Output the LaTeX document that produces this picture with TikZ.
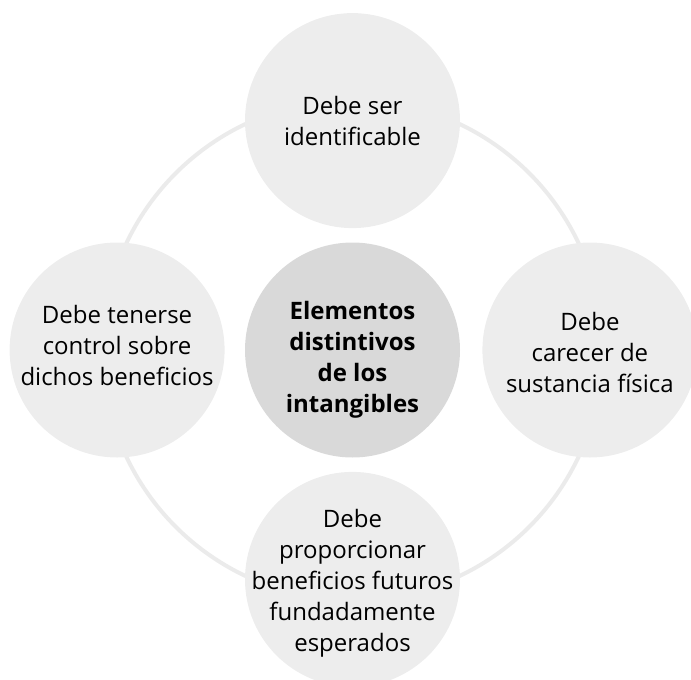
\documentclass[tikz,border=0pt]{standalone}
\usepackage{fontspec}
\setmainfont{Open Sans}
\usetikzlibrary{positioning, backgrounds}

\begin{document}
\begin{tikzpicture}[
  x=1pt, y=-1pt,
  font=\fontsize{24}{31}\selectfont,
  % Define circle styles
  outercircle/.style={
    circle,
    fill=black!7,
    minimum size=215pt,
    inner sep=0pt
  },
  hubcircle/.style={
    outercircle,
    fill=black!15
  },
  % Text inside the circles
  circletext/.style={
    align=center,
    inner sep=0pt
  },
  hubtext/.style={
    circletext,
    font=\fontsize{24}{31}\selectfont\bfseries
  },
  % Ring style
  ringline/.style={
    draw=black!8,
    line width=4pt
  }
]
\useasboundingbox (0,0) rectangle (691,680);

% -----------------------------------------------
% CENTRAL CIRCLE
% -----------------------------------------------
\node[hubcircle, label={[hubtext, yshift=-10pt]center:{Elementos\\distintivos\\de los\\intangibles}}] (hub) at (352.5,350) {};

% -----------------------------------------------
% OUTER CIRCLES
% -----------------------------------------------
\node[outercircle, above=14pt of hub,
  label={[circletext]center:{Debe ser\\identificable}}] (identif) {};

\node[outercircle, right=22pt of hub,
  label={[circletext, yshift=-2pt]center:{Debe\\carecer de\\sustancia física}}] (sustancia) {};

\node[outercircle, below=14pt of hub,
  label={[circletext, yshift=-4pt]center:{Debe\\proporcionar\\beneficios futuros\\fundadamente\\esperados}}] (beneficios) {};

\node[outercircle, left=20pt of hub,
  label={[circletext, yshift=5pt]center:{Debe tenerse\\control sobre\\dichos beneficios}}] (control) {};

% -----------------------------------------------
% RING BEHIND THE CIRCLES
% -----------------------------------------------
\begin{scope}[on background layer]
  \draw[ringline] (hub.center) circle[radius=250pt];
\end{scope}

\end{tikzpicture}
\end{document}
